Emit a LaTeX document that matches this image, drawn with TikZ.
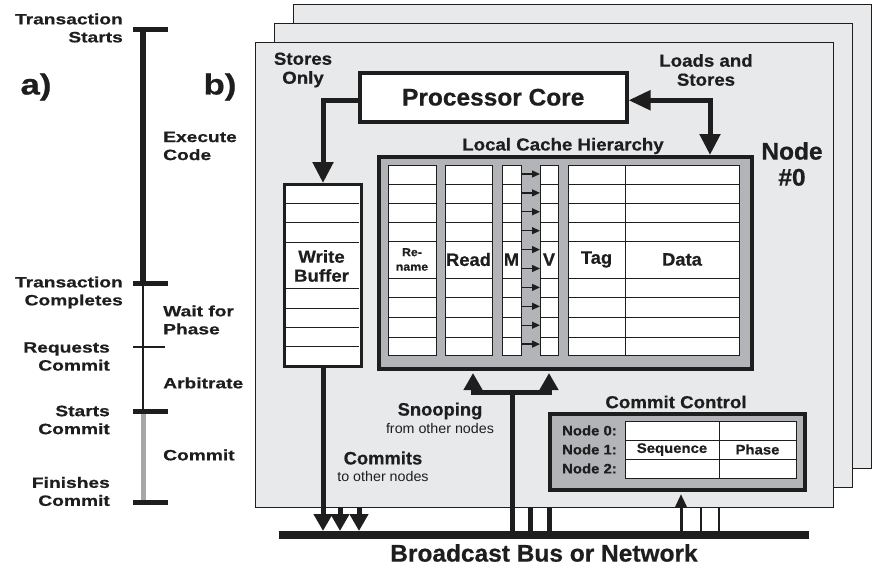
\documentclass[tikz,border=0pt]{standalone}
\usepackage{fontspec}
\setmainfont{Liberation Sans}
\newfontfamily\ftl[FakeStretch=1.28, BoldFeatures={FakeBold=0.6}]{Liberation Sans}
\newfontfamily\fmn[FakeStretch=1.08, BoldFeatures={FakeBold=0.6}]{Liberation Sans}
\newfontfamily\fno[FakeStretch=1.02, BoldFeatures={FakeBold=0.6}]{Liberation Sans}
\newfontfamily\fab[FakeStretch=1.2, BoldFeatures={FakeBold=0.6}]{Liberation Sans}
\usetikzlibrary{arrows.meta,calc}
\definecolor{panelc}{HTML}{E8E9EB}
\definecolor{darkc}{HTML}{B2B4B7}
\definecolor{ink}{HTML}{1E1E1E}
\definecolor{tgray}{HTML}{A5A7AA}
\begin{document}
\begin{tikzpicture}[x=1pt,y=-1pt,
  tlab/.style={font=\ftl\bfseries\fontsize{15}{18}\selectfont, inner sep=0pt, text=ink},
  ablab/.style={font=\fab\bfseries\fontsize{29}{30}\selectfont, inner sep=0pt, text=ink},
  mlab/.style={font=\fmn\bfseries\fontsize{17.3}{19}\selectfont, inner sep=0pt, align=center, text=ink},
  hlab/.style={font=\fno\bfseries\fontsize{18}{20}\selectfont, inner sep=0pt, align=center, text=ink},
  blab/.style={font=\fno\bfseries\fontsize{24}{26}\selectfont, inner sep=0pt, align=center, text=ink},
  slab/.style={font=\fno\fontsize{14}{15}\selectfont, inner sep=0pt, text=ink},
  clab/.style={font=\fmn\bfseries\fontsize{13.8}{15}\selectfont, inner sep=0pt, text=ink},
  rnlab/.style={font=\fmn\bfseries\fontsize{11.5}{14.5}\selectfont, inner sep=0pt, align=center, text=ink},
  panel/.style={draw=ink, fill=panelc, line width=1.3pt, inner sep=0pt, anchor=north west},
  whitebox/.style={draw=ink, fill=white, inner sep=0pt, anchor=north west},
  graybox/.style={draw=ink, fill=darkc, line width=4pt, inner sep=0pt, anchor=north west},
  cell/.style={draw=ink, line width=0.9pt},
  fat/.style={draw=ink, line width=5pt, -{Triangle[length=21pt,width=20pt]}},
  fatb/.style={draw=ink, line width=5pt, -{Triangle[length=17pt,width=18pt]}},
  tick/.style={draw=ink, line width=5pt}
]
\useasboundingbox (0,0) rectangle (873,573);

% ---------- a) timeline ----------
\coordinate (t0) at (143,29);
\coordinate (t1) at (143,283);
\coordinate (t2) at (143,347);
\coordinate (t3) at (143,411);
\coordinate (t4) at (143,502);
\draw[ink, line width=6pt] (t0) -- (t1);
\draw[ink, line width=2.5pt] (t1) -- (t3);
\draw[tgray, line width=5pt] (t3) -- (t4);
\foreach \t in {t0,t1,t3,t4} \draw[tick] ([xshift=-10pt]\t) -- ([xshift=25pt]\t);
\draw[ink, line width=2pt] ([xshift=-10pt]t2) -- ([xshift=22pt]t2);

\node[tlab, align=right, anchor=east] (ts) at (123,28) {Transaction\\Starts};
\node[tlab, align=right, anchor=east] (tc) at (123,292.5) {Transaction\\Completes};
\node[tlab, align=right, anchor=east] (rc) at (110,356.5) {Requests\\Commit};
\node[tlab, align=right, anchor=east] (sc) at (110,420) {Starts\\Commit};
\node[tlab, align=right, anchor=east] (fc) at (110,491.5) {Finishes\\Commit};
\node[tlab, align=left, anchor=west] (ec) at (163,146) {Execute\\Code};
\node[tlab, align=left, anchor=west] (wp) at (163,320) {Wait for\\Phase};
\node[tlab, anchor=west] (ar) at (163,383) {Arbitrate};
\node[tlab, anchor=west] (cm) at (163,455) {Commit};
\node[ablab] (la) at (36,87) {a)};
\node[ablab] (lb) at (220,87) {b)};

% ---------- b) node panels ----------
\node[panel, minimum width=578pt, minimum height=464pt] (p3) at (293,4) {};
\node[panel, minimum width=578pt, minimum height=464pt] (p2) at (274,23) {};
\node[panel, minimum width=578pt, minimum height=465pt] (p1) at (255,42) {};

% processor core
\node[whitebox, line width=3.5pt, minimum width=267pt, minimum height=49pt, font=\fno\bfseries\fontsize{24}{26}\selectfont, text=ink] (proc) at (358,71) {Processor Core};

% write buffer
\node[whitebox, line width=3pt, minimum width=77pt, minimum height=182pt] (wb) at (283,183) {};
\foreach \y in {203,222,242,288,308,327,346} \draw[cell] (284.5,\y) -- (358.5,\y);
\node[mlab] (wbt) at (321.5,266) {Write\\Buffer};

% local cache hierarchy
\node[graybox, minimum width=373pt, minimum height=212pt] (cache) at (377,155) {};
\foreach \a/\b in {388/436,445/492,502/521,540/558,568/739} {
  \draw[cell, fill=white] (\a,165) rectangle (\b,355);
  \foreach \y in {184,203,222,241,278,297,317,337} \draw[cell] (\a,\y) -- (\b,\y);
}
\draw[cell] (625,165) -- (625,355);
\foreach \i [evaluate=\i as \yy using 174+18.9*\i] in {0,...,9}
  \draw[ink, line width=1.3pt, -{Triangle[length=8pt,width=7pt]}] (521.5,\yy) -- (540,\yy);
\node[rnlab] (hrn) at (412,259.5) {Re-\\name};
\node[hlab] (hrd) at (468.5,259.5) {Read};
\node[hlab] (hm) at (511.5,259.5) {M};
\node[hlab] (hv) at (549,259.5) {V};
\node[hlab] (htg) at (596.5,259.5) {Tag};
\node[hlab] (hdt) at (682,259.5) {Data};
\node[mlab] (lch) at (563,146) {Local Cache Hierarchy};

% commit control
\node[graybox, minimum width=255pt, minimum height=76pt] (cc) at (548,412) {};
\draw[cell, fill=white] (625,421) rectangle (796,478);
\draw[cell] (625,440) -- (796,440);
\draw[cell] (625,459) -- (796,459);
\draw[cell] (719,421) -- (719,478);
\node[clab, anchor=east] (n0) at (617,430.5) {Node 0:};
\node[clab, anchor=east] (n1) at (617,449.5) {Node 1:};
\node[clab, anchor=east] (n2) at (617,468.5) {Node 2:};
\node[clab] (sq) at (672,449.5) {Sequence};
\node[clab] (ph) at (757.5,449.5) {Phase};
\node[mlab] (cct) at (676,402) {Commit Control};

% labels
\node[mlab] (so) at (303,70) {Stores\\Only};
\node[mlab] (ls) at (706,70) {Loads and\\Stores};
\node[blab] (nd) at (792,164) {Node\\\#0};
\node[hlab] (sn) at (440,411) {Snooping};
\node[slab] (sn2) at (440,428) {from other nodes};
\node[hlab] (cmt) at (383,458) {Commits};
\node[slab] (cmt2) at (383,476) {to other nodes};

% processor connectors
\coordinate (ld) at (710,0);
\draw[fat] ([yshift=-3pt]proc.west) -| (wb.north);
\draw[fat, {Triangle[length=22pt,width=19pt]}-{Triangle[length=21pt,width=20pt]}] ([yshift=-3pt]proc.east) -| (cache.north -| ld);

% bus
\coordinate (busL) at (279,535);
\coordinate (busR) at (809,535);
\coordinate (busT) at (0,531);
\draw[ink, line width=8pt] (busL) -- (busR);
\node[blab] (bus) at (544,553) {Broadcast Bus or Network};

% commits to bus
\coordinate (c2) at (340,0);
\coordinate (c3) at (359,0);
\draw[fatb] (wb.south) -- (wb.south |- busT);
\draw[fatb] (p1.south -| c2) -- (busT -| c2);
\draw[fatb] (p1.south -| c3) -- (busT -| c3);

% snooping from bus
\coordinate (sj) at (512,392);
\coordinate (sa) at (473,0);
\coordinate (sb) at (549,0);
\coordinate (l1) at (530,0);
\coordinate (l2) at (549,0);
\draw[ink, line width=5pt] (busL -| sj) -- (sj);
\draw[fatb] (sj) -| ([yshift=-2pt]cache.south -| sa);
\draw[fatb] (sj) -| ([yshift=-2pt]cache.south -| sb);
\draw[ink, line width=5pt] (p1.south -| l1) -- (busL -| l1);
\draw[ink, line width=5pt] (p1.south -| l2) -- (busL -| l2);

% commit control from bus
\coordinate (ca) at (681,0);
\coordinate (cb) at (701,0);
\coordinate (cd) at (719,0);
\draw[ink, line width=3pt, -{Triangle[length=13pt,width=11pt]}] (busL -| ca) -- ([yshift=-2pt]cc.south -| ca);
\draw[ink, line width=2.5pt] (p1.south -| cb) -- (busL -| cb);
\draw[ink, line width=2.5pt] (p1.south -| cd) -- (busL -| cd);
\end{tikzpicture}
\end{document}
